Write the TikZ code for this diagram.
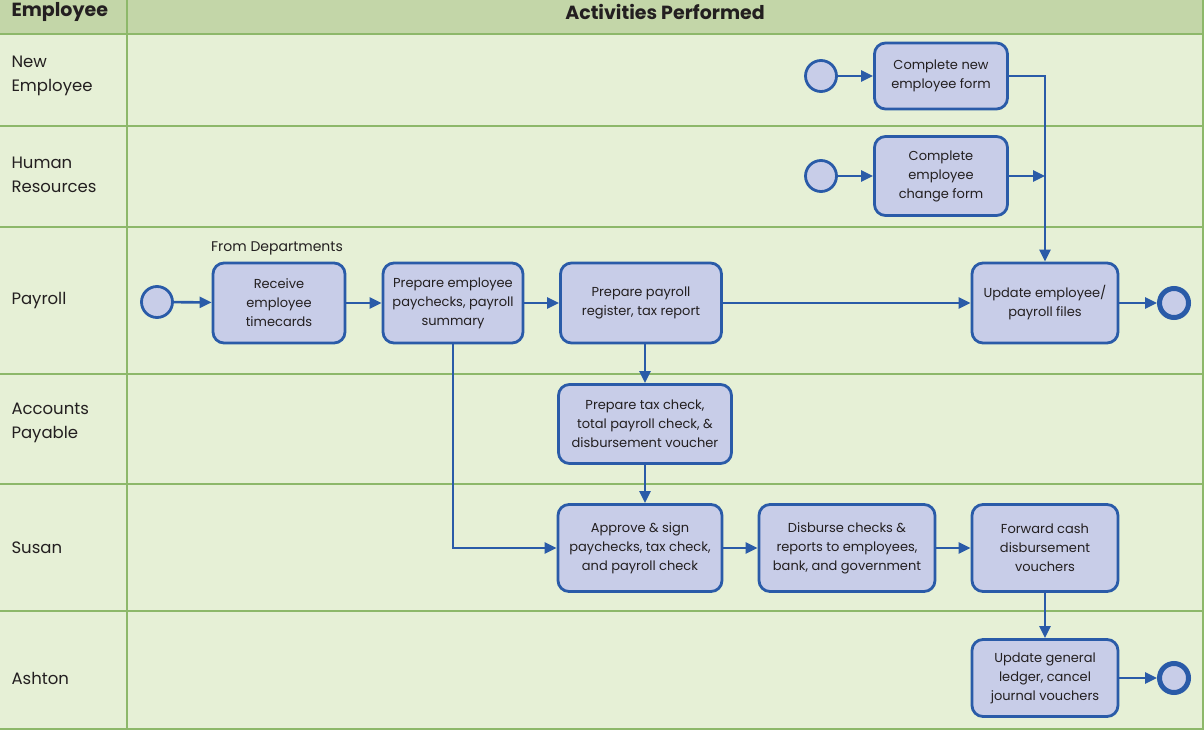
\documentclass[tikz,border=0pt]{standalone}
\usepackage{fontspec}
\setmainfont{Poppins}
\usetikzlibrary{arrows.meta,positioning}
\definecolor{hdr}{HTML}{C3D6A8}
\definecolor{lane}{HTML}{E6F0D6}
\definecolor{grid}{HTML}{8DB86A}
\definecolor{boxfill}{HTML}{C8CDE8}
\definecolor{boxline}{HTML}{2A5BA8}
\definecolor{txt}{HTML}{231F20}
\tikzset{
  act/.style={draw=boxline, fill=boxfill, line width=2.8pt, rounded corners=11pt,
    align=center, font=\fontsize{13}{19}\selectfont, text=txt, inner sep=2pt},
  startev/.style={circle, draw=boxline, fill=boxfill, line width=2.8pt, minimum size=31pt, inner sep=0pt},
  endev/.style={circle, draw=boxline, fill=boxfill, line width=5pt, minimum size=29pt, inner sep=0pt},
  flow/.style={draw=boxline, line width=2.6pt, -{Triangle[length=12pt,width=11pt]}},
  lanelbl/.style={anchor=west, align=left, font=\fontsize{16.5}{24}\selectfont, text=txt},
  hdrlbl/.style={font=\bfseries\fontsize{19}{22}\selectfont, text=txt},
  gridline/.style={draw=grid, line width=2.8pt}
}
\begin{document}
\begin{tikzpicture}[x=1pt,y=-1pt]
\useasboundingbox (0,0) rectangle (1204,730);
% backgrounds
\fill[lane] (0,0) rectangle (1204,730);
\fill[hdr] (0,0) rectangle (1204,34);
% grid lines
\foreach \yy in {34,126,227,374,484,611} \draw[gridline] (0,\yy) -- (1204,\yy);
\draw[gridline] (127,0) -- (127,730);
\draw[gridline] (1203,0) -- (1203,730);
\draw[gridline] (0,729) -- (1204,729);
% headers
\node[hdrlbl, anchor=west] (hemp) at (8,12) {Employee};
\node[hdrlbl] (hact) at (665,12) {Activities Performed};
% lane labels
\node[lanelbl] (lne) at (8,76) {New\\Employee};
\node[lanelbl] (lhr) at (8,175) {Human\\Resources};
\node[lanelbl] (lpay) at (8,301) {Payroll};
\node[lanelbl] (lap) at (8,423) {Accounts\\Payable};
\node[lanelbl] (lsu) at (8,548) {Susan};
\node[lanelbl] (lash) at (8,678) {Ashton};
% New Employee
\node[startev] (s1) at (821,76) {};
\node[act, minimum width=133pt, minimum height=66pt] (ne) at (941,76) {Complete new\\employee form};
% Human resources
\node[startev] (s2) at (821,176) {};
\node[act, minimum width=133pt, minimum height=79pt] (hr) at (941,176) {Complete\\employee\\change form};
% Payroll
\node[startev] (s3) at (157,302) {};
\node[act, minimum width=132pt, minimum height=80pt] (rec) at (279,303) {Receive\\employee\\timecards};
\node[font=\fontsize{14}{16}\selectfont, text=txt] (fromd) at (277,248) {From Departments};
\node[act, minimum width=140pt, minimum height=80pt] (pep) at (453,303) {Prepare employee\\paychecks, payroll\\summary};
\node[act, minimum width=161pt, minimum height=80pt] (ppr) at (641,303) {Prepare payroll\\register, tax report};
\node[act, minimum width=146pt, minimum height=80pt] (upd) at (1045,303) {Update employee/\\payroll files};
\node[endev] (e1) at (1174,303) {};
% Accounts payable
\node[act, minimum width=173pt, minimum height=79pt] (ptc) at (645,424) {Prepare tax check,\\total payroll check, \&\\disbursement voucher};
% Susan
\node[act, minimum width=164pt, minimum height=87pt] (app) at (640,548) {Approve \& sign\\paychecks, tax check,\\and payroll check};
\node[act, minimum width=176pt, minimum height=87pt] (dis) at (847,548) {Disburse checks \&\\reports to employees,\\bank, and government};
\node[act, minimum width=146pt, minimum height=87pt] (fwd) at (1045,548) {Forward cash\\disbursement\\vouchers};
% Ashton
\node[act, minimum width=146pt, minimum height=77pt] (ugl) at (1045,678) {Update general\\ledger, cancel\\journal vouchers};
\node[endev] (e2) at (1174,678) {};
% connectors
\coordinate (j) at (1045,176);
\draw[flow] (s1) -- (ne);
\draw[flow] (s2) -- (hr);
\draw[flow] (hr.east) -- (j);
\draw[flow] (ne.east) -| (upd.north);
\draw[flow] (s3) -- (rec);
\draw[flow] (rec) -- (pep);
\draw[flow] (pep) -- (ppr);
\draw[flow] (ppr) -- (upd);
\draw[flow] (upd) -- (e1);
\draw[flow] (ppr.south -| ptc.north) -- (ptc.north);
\draw[flow] (ptc.south) -- (ptc.south |- app.north);
\draw[flow] (pep.south) |- (app.west);
\draw[flow] (app) -- (dis);
\draw[flow] (dis) -- (fwd);
\draw[flow] (fwd) -- (ugl);
\draw[flow] (ugl) -- (e2);
\end{tikzpicture}
\end{document}
